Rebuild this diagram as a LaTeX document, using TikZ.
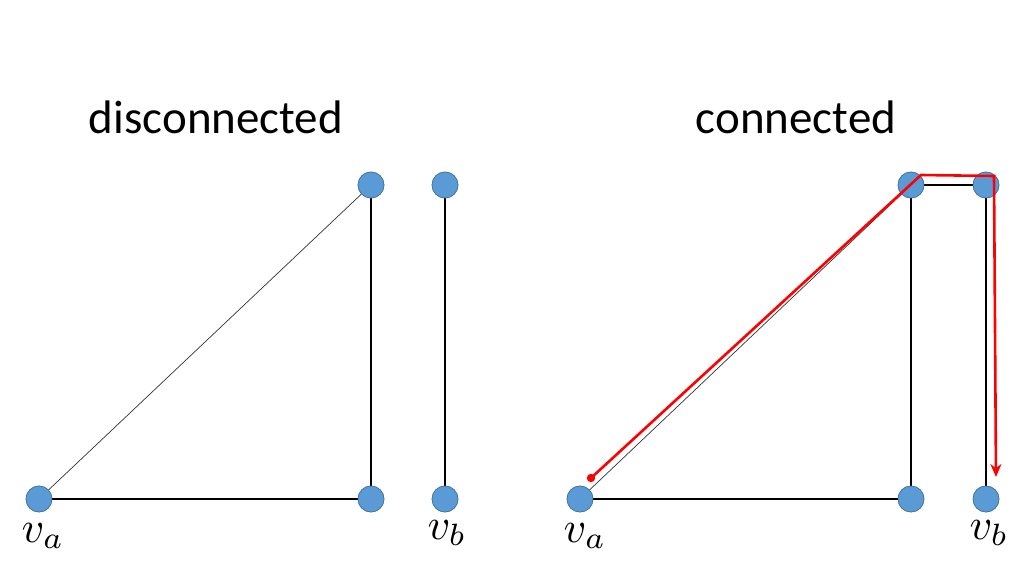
\documentclass[tikz,border=0pt]{standalone}
\usepackage{fontspec}
\setmainfont{Carlito}
\usetikzlibrary{arrows.meta}
\definecolor{nodefill}{HTML}{5B9BD5}
\definecolor{nodeline}{HTML}{41719C}
\begin{document}
\begin{tikzpicture}[x=1pt,y=-1pt,
  vert/.style={circle,fill=nodefill,draw=nodeline,line width=0.6pt,minimum size=26pt,inner sep=0pt},
  edge/.style={draw=black,line width=1.4pt},
  thinedge/.style={draw=black!80,line width=0.7pt},
  title/.style={font=\fontsize{47}{56}\selectfont},
  vlabel/.style={scale=4.4,inner sep=0pt},
  redpath/.style={draw=red,line width=2.6pt}]
\useasboundingbox (0,0) rectangle (1021,567);
\node[title] (t1) at (216,117) {disconnected};
\node[title] (t2) at (796,117) {connected};
% left graph
\node[vert] (a1) at (39,499) {};
\node[vert] (b1) at (371,185) {};
\node[vert] (c1) at (371,499) {};
\node[vert] (d1) at (445,185) {};
\node[vert] (e1) at (445,499) {};
\draw[edge] (a1) -- (c1);
\draw[thinedge] (a1) -- (b1);
\draw[edge] (b1) -- (c1);
\draw[edge] (d1) -- (e1);
% right graph
\node[vert] (a2) at (580,499) {};
\node[vert] (b2) at (911,185) {};
\node[vert] (c2) at (911,499) {};
\node[vert] (d2) at (986,185) {};
\node[vert] (e2) at (986,499) {};
\draw[edge] (a2) -- (c2);
\draw[thinedge] (a2) -- (b2);
\draw[edge] (b2) -- (c2);
\draw[edge,line width=2.4pt] (b2) -- (d2);
\draw[edge] (d2) -- (e2);
\foreach \n in {a1,b1,c1,d1,e1,a2,b2,c2,d2,e2} {\node[vert] at (\n) {};}
% labels
\node[vlabel] (la1) at (43,536) {$v_a$};
\node[vlabel] (lb1) at (447,533) {$v_b$};
\node[vlabel] (la2) at (585,536) {$v_a$};
\node[vlabel] (lb2) at (989,533) {$v_b$};
% red path
\coordinate (r0) at (591,478);
\coordinate (r1) at (921,175);
\coordinate (r2) at (994,176);
\coordinate (r3) at (996,477);
\fill[red] (r0) circle (4.2pt);
\draw[redpath,-{Stealth[length=13pt,width=11pt]}] (r0) -- (r1) -- (r2) -- (r3);
\end{tikzpicture}
\end{document}
